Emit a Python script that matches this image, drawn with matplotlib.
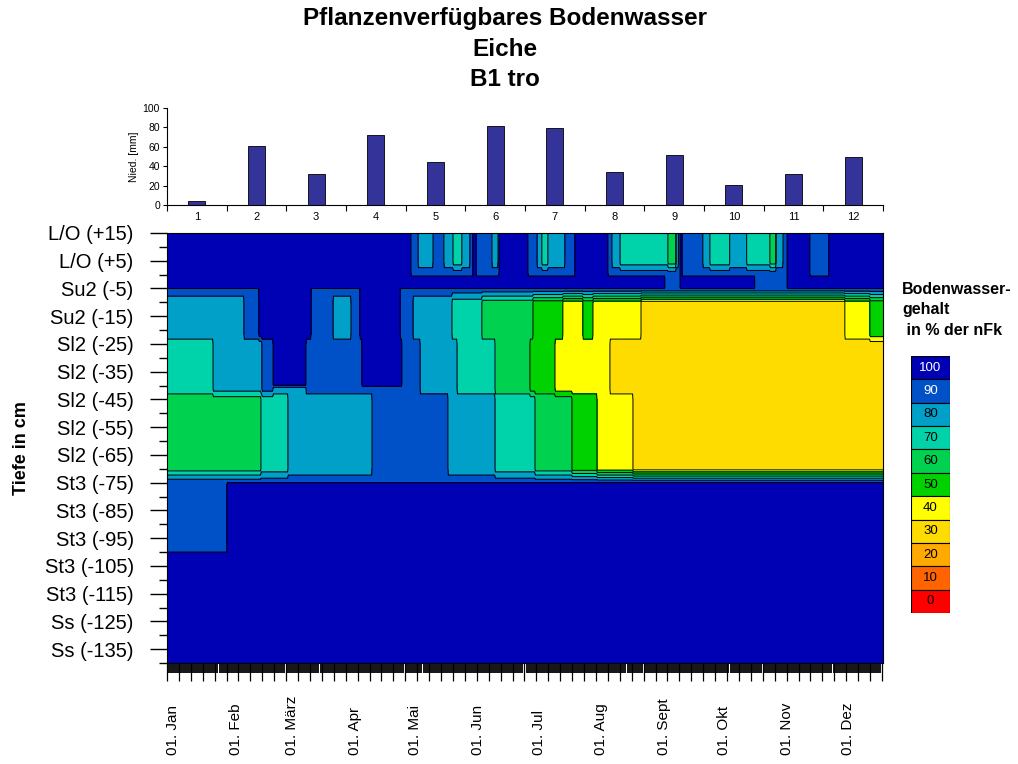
import numpy as np
import matplotlib
matplotlib.use('Agg')
import matplotlib.pyplot as plt
from matplotlib.ticker import FixedLocator, MultipleLocator, NullFormatter

plt.rcParams['font.family'] = ['Liberation Sans', 'DejaVu Sans']

# Niederschlag pro Monat [mm]
months_num = list(range(1, 13))
nied = [4, 61, 32, 72, 44, 81, 79, 34, 52, 21, 32, 50]

# x axis: day of year (0 = 01. Jan)
month_days = [0, 31, 59, 90, 120, 151, 181, 212, 243, 273, 304, 334]
month_labels = ['01. Jan', '01. Feb', '01. März', '01. Apr', '01. Mai', '01. Jun',
                '01. Jul', '01. Aug', '01. Sept', '01. Okt', '01. Nov', '01. Dez']

depth_ticks = [15, 5, -5, -15, -25, -35, -45, -55, -65, -75, -85, -95, -105, -115, -125, -135]
depth_labels = ['L/O (+15)', 'L/O (+5)', 'Su2 (-5)', 'Su2 (-15)', 'Sl2 (-25)', 'Sl2 (-35)',
                'Sl2 (-45)', 'Sl2 (-55)', 'Sl2 (-65)', 'St3 (-75)', 'St3 (-85)', 'St3 (-95)',
                'St3 (-105)', 'St3 (-115)', 'Ss (-125)', 'Ss (-135)']

class_vals = [100, 90, 80, 70, 60, 50, 40, 30, 20, 10, 0]
class_colors = ['#0000b4', '#0050c8', '#00a0c8', '#00d2aa', '#00d250', '#00d200',
                '#ffff00', '#ffdc00', '#ffaa00', '#ff6400', '#ff0000']

# nFk classes: (from day, class) per depth band
# Humusauflage (L/O)
org_inner = [(-3, 100), (117.8, 90), (121.3, 80), (128.7, 90), (134.1, 80), (138.6, 70),
             (143.0, 80), (147.0, 90), (148.5, 100),
             (150.0, 90), (157.9, 80), (160.9, 90), (161.4, 100),
             (175.7, 90), (180.2, 80), (182.6, 70), (185.6, 80), (194.0, 90), (199.0, 100),
             (215.3, 90), (217.3, 80), (221.3, 70), (245.0, 60), (249.0, 80), (250.2, 90),
             (251.0, 100),
             (252.0, 90), (262.3, 80), (265.8, 70), (275.6, 80), (284.0, 70), (295.5, 60),
             (298.5, 80), (302.0, 90), (304.0, 100),
             (315.3, 90), (324.7, 100)]
org_rim = [(-3, 100), (117.8, 90), (148.5, 100), (150.0, 90), (161.4, 100), (175.7, 90),
           (199.0, 100), (215.3, 90), (251.0, 100), (252.0, 90), (304.0, 100),
           (315.3, 90), (324.7, 100)]
org_base = [(-3, 100), (243.5, 90), (251.0, 100), (288.0, 90), (304.0, 100)]

# Mineralboden
min_band = [(-3, 90), (42.5, 100), (68.3, 90), (92.5, 100), (112.4, 90)]
min_upper = [(-3, 80), (35.1, 90), (42.5, 100), (68.3, 90), (79.2, 80), (88.1, 90),
             (92.5, 100), (112.4, 90), (118.8, 80), (138.1, 70), (152.9, 60), (178.2, 50),
             (193.0, 40), (202.9, 50), (207.9, 40), (231.7, 30), (332.6, 40), (345.0, 50)]
min_middle = [(-3, 70), (19.8, 80), (44.0, 90), (49.5, 100), (65.8, 90), (93.5, 100),
              (113.3, 90), (122.3, 80), (140.6, 70), (159.4, 60), (176.7, 50), (189.1, 40),
              (216.3, 30)]
min_midlow = [(-3, 70), (19.8, 80), (44.0, 90), (49.5, 80), (65.8, 90), (122.3, 80),
              (140.6, 70), (159.4, 60), (176.7, 50), (189.1, 40), (216.3, 30)]
min_lower = [(-3, 60), (43.5, 70), (56.9, 80), (98.5, 90), (136.1, 80), (159.4, 70),
             (179.2, 60), (197.5, 50), (209.9, 40), (227.7, 30)]
min_base = [(-3, 90)]
min_deep = [(-3, 90), (26.7, 100)]
min_bottom = [(-3, 100)]

org_depths = [15, 4.5, 0.5, -1.5, -4.6]
org_rows = [org_inner, org_inner, org_rim, org_base, org_base]
min_depths = [-4.5, -5.5, -10, -21.5, -25, -39.5, -41, -45, -70, -74.5, -75.5, -99.5, -100.5, -140]
min_rows = [org_base, min_band, min_upper, min_upper, min_middle, min_middle, min_midlow,
            min_lower, min_lower, min_base, min_deep, min_deep, min_bottom, min_bottom]

X_MIN, X_MAX = -3, 351.5


def band_at(band, days):
    starts = np.array([b[0] for b in band])
    vals = np.array([b[1] for b in band], dtype=float)
    return vals[np.searchsorted(starts, days, side='right') - 1]


def build_grid(rows):
    d = [X_MIN, X_MAX]
    for band in rows:
        for start, _ in band[1:]:
            d += [start - 0.2, start + 0.2]
    days = np.array(sorted(set(d)))
    return days, np.array([band_at(b, days) for b in rows])


fig = plt.figure(figsize=(10.18, 7.64), dpi=100)
W, H = 1018.0, 764.0

fig.text(505 / W, 1 - 18 / H, 'Pflanzenverfügbares Bodenwasser', ha='center', va='center',
         fontsize=17.5, fontweight='bold')
fig.text(505 / W, 1 - 49 / H, 'Eiche', ha='center', va='center', fontsize=17.5, fontweight='bold')
fig.text(505 / W, 1 - 80 / H, 'B1 tro', ha='center', va='center', fontsize=17.5, fontweight='bold')

# --- Niederschlag ---
ax_bar = fig.add_axes([167 / W, 1 - 205 / H, 716 / W, 97 / H])
ax_bar.bar(months_num, nied, width=0.28, color='#333399', edgecolor='black', linewidth=0.6)
ax_bar.set_xlim(0.5, 12.5)
ax_bar.set_ylim(0, 100)
ax_bar.set_yticks([0, 20, 40, 60, 80, 100])
ax_bar.xaxis.set_major_locator(FixedLocator(np.arange(0.5, 13, 1)))
ax_bar.xaxis.set_major_formatter(NullFormatter())
ax_bar.set_xticks(months_num, minor=True)
ax_bar.set_xticklabels([str(m) for m in months_num], minor=True, fontsize=8)
ax_bar.tick_params(axis='x', which='major', length=4, width=0.8)
ax_bar.tick_params(axis='x', which='minor', length=0, pad=5)
ax_bar.tick_params(axis='y', length=3, width=0.8, labelsize=7.5, pad=2)
ax_bar.set_ylabel('Nied. [mm]', fontsize=7.5, labelpad=3)
for s in ['top', 'right']:
    ax_bar.spines[s].set_visible(False)

# --- Bodenwasser ---
ax = fig.add_axes([167 / W, 1 - 663 / H, 716 / W, 430 / H])
levels = [-5, 5, 15, 25, 35, 45, 55, 65, 75, 85, 95, 105]
fill_colors = class_colors[::-1]

mdays, mz = build_grid(min_rows)
ax.contourf(mdays, min_depths, mz, levels=levels, colors=fill_colors)
ax.contour(mdays, min_depths, mz, levels=levels[1:-1], colors='black', linewidths=0.7)
odays, oz = build_grid(org_rows)
ax.contourf(odays, org_depths, oz, levels=levels, colors=fill_colors)
ax.contour(odays, org_depths, oz, levels=levels[1:-1], colors='black', linewidths=0.7)

ax.set_xlim(X_MIN, X_MAX)
ax.set_ylim(-140, 15)
ax.set_yticks(depth_ticks)
ax.set_yticklabels(depth_labels, fontsize=14.5)
ax.yaxis.set_minor_locator(FixedLocator(np.arange(10, -141, -10)))
ax.tick_params(axis='y', which='major', length=12, width=1, pad=12)
ax.tick_params(axis='y', which='minor', length=6, width=1)
ax.xaxis.set_major_locator(FixedLocator(np.arange(X_MIN, X_MAX, 5.9)))
ax.xaxis.set_minor_locator(MultipleLocator(1))
ax.xaxis.set_major_formatter(NullFormatter())
ax.tick_params(axis='x', which='major', length=13, width=0.9)
ax.tick_params(axis='x', which='minor', length=7, width=1.3)
for d, lab in zip(month_days, month_labels):
    ax.annotate(lab, xy=(d, 0), xycoords=('data', 'axes fraction'), xytext=(0, -66),
                textcoords='offset points', rotation=90, ha='center', va='bottom', fontsize=11)

fig.text(22 / W, 1 - 448 / H, 'Tiefe in cm', rotation=90, ha='center', va='center',
         fontsize=13, fontweight='bold')

# --- Legende ---
fig.text(902 / W, 1 - 282 / H, 'Bodenwasser-\ngehalt\n in % der nFk', ha='left', va='top',
         fontsize=11.5, fontweight='bold', linespacing=1.45)
ax_leg = fig.add_axes([910.7 / W, 1 - 613 / H, 39.3 / W, 257 / H])
for i, (v, c) in enumerate(zip(class_vals, class_colors)):
    y0 = len(class_vals) - 1 - i
    ax_leg.bar(0, 1, bottom=y0, width=1, color=c, edgecolor='black', linewidth=0.8, align='center')
    ax_leg.text(0, y0 + 0.5, str(v), ha='center', va='center', fontsize=9.5,
                color='white' if v >= 90 else 'black')
ax_leg.set_xlim(-0.5, 0.5)
ax_leg.set_ylim(0, len(class_vals))
ax_leg.axis('off')

fig.savefig('out.png', dpi=100)
